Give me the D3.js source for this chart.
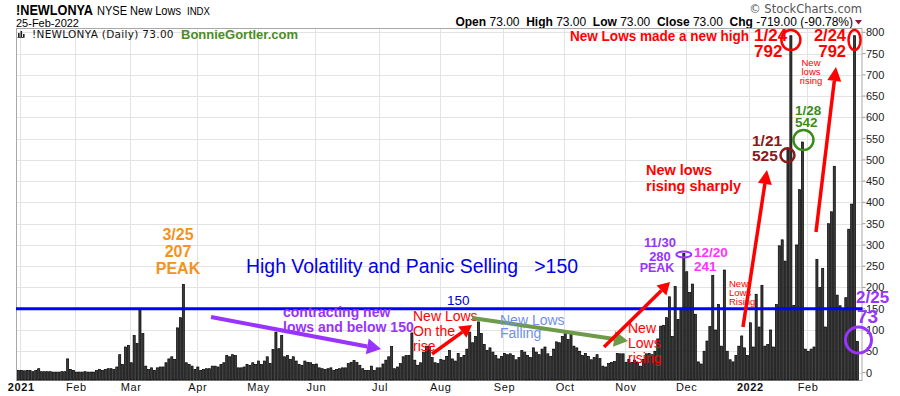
<!DOCTYPE html>
<html>
<head>
<meta charset="utf-8">
<script src="https://cdn.jsdelivr.net/npm/d3@7"></script>
<style>
  html, body { margin: 0; padding: 0; background: #fff; }
  svg { display: block; font-family: "Liberation Sans", Arial, sans-serif; }
</style>
</head>
<body>
<div id="chart"></div>
<script>
// ---- daily NYSE new lows, one array per month ----
const dec2020 = [5];
const jan2021 = [5, 4, 5, 5, 2, 5, 9, 2, 2, 2, 2, 1, 1, 1, 2, 2, 32, 7, 5];
const feb2021 = [1, 1, 1, 2, 1, 1, 1, 5, 7, 5, 7, 9, 9, 7, 13, 42, 19, 60, 64];
const mar2021 = [23, 87, 68, 149, 92, 15, 7, 11, 5, 11, 13, 13, 23, 32, 37, 31, 105, 129, 207, 23, 19, 15, 7];
const apr2021 = [13, 5, 7, 9, 9, 15, 15, 13, 19, 23, 40, 37, 42, 40, 11, 11, 13, 19, 17, 23, 19];
const may2021 = [27, 19, 27, 37, 21, 54, 95, 56, 87, 37, 40, 31, 37, 27, 19, 17, 27, 24, 23, 19];
const jun2021 = [20, 11, 9, 7, 9, 11, 5, 7, 9, 11, 11, 21, 24, 28, 24, 17, 9, 5, 5, 15, 5, 11];
const jul2021 = [11, 20, 29, 37, 61, 9, 13, 21, 37, 40, 40, 93, 29, 17, 23, 48, 62, 61, 35, 23, 21];
const aug2021 = [31, 29, 38, 52, 32, 27, 45, 35, 40, 55, 95, 70, 85, 119, 92, 66, 52, 58, 48, 40, 32, 38];
const sep2021 = [45, 42, 44, 40, 30, 35, 52, 48, 40, 35, 58, 48, 42, 55, 60, 44, 38, 55, 72, 70, 85];
const oct2021 = [97, 78, 95, 62, 58, 50, 40, 45, 38, 30, 35, 42, 33, 15, 13, 21, 24, 26, 45, 44, 44];
const nov2021 = [24, 31, 24, 29, 24, 15, 31, 44, 45, 42, 50, 79, 109, 111, 129, 178, 85, 202, 125, 150, 280];
const dec2021 = [237, 188, 208, 137, 25, 20, 50, 74, 108, 228, 100, 160, 62, 241, 50, 30, 25, 40, 62, 86, 58, 40];
const jan2022 = [117, 60, 184, 107, 205, 62, 66, 100, 60, 160, 298, 312, 262, 525, 792, 158, 300, 430, 542, 55];
const feb2022 = [50, 55, 60, 266, 200, 245, 107, 350, 378, 485, 182, 157, 150, 176, 337, 396, 792, 73];

const monthValues = [dec2020, jan2021, feb2021, mar2021, apr2021, may2021, jun2021,
                     jul2021, aug2021, sep2021, oct2021, nov2021, dec2021, jan2022, feb2022];
const monthLabels = ["", "2021", "Feb", "Mar", "Apr", "May", "Jun", "Jul", "Aug",
                     "Sep", "Oct", "Nov", "Dec", "2022", "Feb"];
const yTickValues = [0, 50, 100, 150, 200, 250, 300, 350, 400, 450, 500, 550, 600, 650, 700, 750, 800];
const threshold = 150;

// flatten -> one row per trading day
const data = [];
const monthStarts = [];
monthValues.forEach((arr, m) => {
  monthStarts.push({ i: data.length, label: monthLabels[m] });
  arr.forEach(v => data.push({ i: data.length, v }));
});
const n = data.length;

const W = 900, H = 396;
const plot = { left: 17, right: 17 + n * 2.893, top: 29, bottom: 380 };

const svg = d3.select("#chart").append("svg")
  .attr("width", W).attr("height", H);

const x = d3.scaleBand()
  .domain(d3.range(n))
  .range([plot.left, plot.right])
  .paddingInner(0.28)
  .paddingOuter(0.14);
const xc = i => x(i) + x.bandwidth() / 2;

const y = d3.scaleLinear()
  .domain([-17.6, 807.8])
  .range([plot.bottom, plot.top]);

const frameR = 862.5;

// ---- header ----
const head = svg.append("g");
head.append("text").attr("x", 16).attr("y", 15)
  .attr("font-size", 14.5).attr("font-weight", "bold").attr("fill", "#000")
  .attr("textLength", 77).attr("lengthAdjust", "spacingAndGlyphs")
  .text("!NEWLONYA");
head.append("text").attr("x", 97).attr("y", 15)
  .attr("font-size", 12).attr("fill", "#000")
  .attr("textLength", 84).attr("lengthAdjust", "spacingAndGlyphs")
  .text("NYSE New Lows");
head.append("text").attr("x", 187).attr("y", 15)
  .attr("font-size", 11.5).attr("fill", "#000")
  .attr("textLength", 23).attr("lengthAdjust", "spacingAndGlyphs")
  .text("INDX");
head.append("text").attr("x", 16).attr("y", 27)
  .attr("font-size", 11).attr("fill", "#000")
  .text("25-Feb-2022");
head.append("text").attr("x", 862).attr("y", 13)
  .attr("text-anchor", "end").attr("font-size", 11.5).attr("fill", "#555")
  .attr("font-family", "DejaVu Sans, sans-serif")
  .text("\u00A9 StockCharts.com");

const ohlc = head.append("text").attr("x", 853).attr("y", 26)
  .attr("text-anchor", "end").attr("font-size", 12).attr("fill", "#000");
[["Open", " 73.00  "], ["High", " 73.00  "], ["Low", " 73.00  "],
 ["Close", " 73.00  "], ["Chg", " -719.00 (-90.78%)"]].forEach(([k, val]) => {
  ohlc.append("tspan").attr("font-weight", "bold").text(k);
  ohlc.append("tspan").text(val.replace(/ /g, "\u00A0"));
});
head.append("path").attr("d", "M855,20 L862,20 L858.5,24.5 Z").attr("fill", "#8b1a3a");

// ---- grid + frame ----
const grid = svg.append("g");
grid.selectAll("line.h").data(yTickValues).join("line")
  .attr("x1", plot.left - 1).attr("x2", frameR)
  .attr("y1", d => Math.round(y(d)) + 0.5).attr("y2", d => Math.round(y(d)) + 0.5)
  .attr("stroke", "#e3e3e3");
grid.selectAll("line.v").data(monthStarts.filter(d => d.label)).join("line")
  .attr("x1", d => Math.round(x(d.i)) + 0.5).attr("x2", d => Math.round(x(d.i)) + 0.5)
  .attr("y1", plot.top).attr("y2", plot.bottom)
  .attr("stroke", "#e3e3e3");
svg.append("rect")
  .attr("x", plot.left - 0.5).attr("y", plot.top - 0.5)
  .attr("width", frameR - plot.left).attr("height", plot.bottom - plot.top + 1)
  .attr("fill", "none").attr("stroke", "#a8a8a8");

// ---- bars ----
svg.append("g").selectAll("rect").data(data).join("rect")
  .attr("x", d => x(d.i))
  .attr("y", d => y(d.v))
  .attr("width", x.bandwidth())
  .attr("height", d => plot.bottom - y(d.v))
  .attr("fill", "#3c3c3c")
  .attr("stroke", "#000")
  .attr("stroke-width", 0.7);

// ---- axes labels ----
const yAx = svg.append("g");
yAx.selectAll("text").data(yTickValues).join("text")
  .attr("x", 866).attr("y", d => y(d) + 4)
  .attr("font-size", 11).attr("fill", "#222")
  .text(d => d);
yAx.selectAll("line").data(yTickValues).join("line")
  .attr("x1", frameR).attr("x2", frameR + 3)
  .attr("y1", d => y(d)).attr("y2", d => y(d)).attr("stroke", "#999");

svg.append("g").selectAll("text").data(monthStarts.filter(d => d.label)).join("text")
  .attr("x", d => x(d.i) + 1).attr("y", 391)
  .attr("text-anchor", "middle")
  .attr("font-size", 11)
  .attr("letter-spacing", 0.6)
  .attr("font-weight", d => /^\d{4}$/.test(d.label) ? "bold" : "normal")
  .attr("fill", "#111")
  .text(d => d.label);

// ---- legend ----
const leg = svg.append("g");
[[18, 33, 4], [20.5, 31, 6], [23, 34, 3]].forEach(([bx, by, bh]) =>
  leg.append("rect").attr("x", bx).attr("y", by).attr("width", 1.6).attr("height", bh).attr("fill", "#222"));
leg.append("rect").attr("x", 17.5).attr("y", 37).attr("width", 7).attr("height", 0.8).attr("fill", "#222");
leg.append("text").attr("x", 32).attr("y", 38)
  .attr("font-family", "DejaVu Sans, sans-serif").attr("font-size", 10.5).attr("fill", "#111")
  .attr("letter-spacing", 0.3)
  .text("!NEWLONYA (Daily) 73.00");
leg.append("text").attr("x", 181).attr("y", 39)
  .attr("font-size", 13).attr("font-weight", "bold").attr("fill", "#4a8c26")
  .text("BonnieGortler.com");

// ---- threshold line ----
svg.append("line")
  .attr("x1", plot.left - 1).attr("x2", frameR)
  .attr("y1", y(threshold)).attr("y2", y(threshold))
  .attr("stroke", "#0000ff").attr("stroke-width", 3);

// ---- annotations ----
const ann = svg.append("g");

function lines(xp, yp, rows, size, color, weight, lh, anchor) {
  rows.forEach((t, k) => ann.append("text")
    .attr("x", xp).attr("y", yp + k * lh)
    .attr("font-size", size).attr("font-weight", weight || "normal")
    .attr("text-anchor", anchor || "start")
    .attr("fill", color).text(t));
}

function arrow(x1, y1, x2, y2, color, w, hl, hw) {
  const a = Math.atan2(y2 - y1, x2 - x1);
  const bx = x2 - hl * Math.cos(a), by = y2 - hl * Math.sin(a);
  ann.append("line").attr("x1", x1).attr("y1", y1).attr("x2", bx).attr("y2", by)
    .attr("stroke", color).attr("stroke-width", w);
  const px = -Math.sin(a) * hw, py = Math.cos(a) * hw;
  ann.append("path")
    .attr("d", `M${x2},${y2} L${bx + px},${by + py} L${bx - px},${by - py} Z`)
    .attr("fill", color);
}

// 3/25 peak
lines(178, 240, ["3/25", "207", "PEAK"], 16, "#f5921e", "bold", 17, "middle");

// headline
ann.append("text").attr("x", 246).attr("y", 273)
  .attr("font-size", 20).attr("fill", "#0000ee")
  .attr("textLength", 332).attr("lengthAdjust", "spacingAndGlyphs")
  .text("High Volatility and Panic Selling\u00A0\u00A0\u00A0>150");
ann.append("text").attr("x", 447).attr("y", 305)
  .attr("font-size", 13.5).attr("fill", "#0000cc").text("150");

// contracting
arrow(211, 317, 381, 349, "#9933ff", 4, 14, 8);
lines(283, 317, ["contracting new", "lows and below 150"], 14, "#9933ff", "bold", 15);

// new lows on the rise
lines(413, 321, ["New Lows", "On the", "rise"], 14, "#ff0000", "normal", 15);
arrow(432, 354, 472, 325, "#ff0000", 3.5, 12, 7);

// falling
arrow(472, 318, 628, 341, "#6e9b4a", 4, 14, 8);
lines(500, 325, ["New Lows", "Falling"], 14, "#6f8fee", "normal", 13);

// new lows rising (Nov)
lines(628, 333, ["New", "Lows", "rising"], 14, "#ff0000", "normal", 15);
arrow(604, 347, 670, 282, "#ff0000", 3.5, 12, 7);

// 11/30 & 12/20
lines(660, 247, ["11/30", "280"], 13, "#9933ff", "bold", 14, "middle");
lines(657, 272, ["PEAK"], 12.5, "#9933ff", "bold", 0, "middle");
ann.append("ellipse").attr("cx", xc(230)).attr("cy", y(280) + 1)
  .attr("rx", 7.5).attr("ry", 3).attr("fill", "none")
  .attr("stroke", "#9933ff").attr("stroke-width", 2);
lines(694, 257, ["12/20", "241"], 13.5, "#ff33ff", "bold", 14);

// sharply
lines(646, 175, ["New lows", "rising sharply"], 14.5, "#ff0000", "bold", 16);
arrow(743, 327, 767, 170, "#ff0000", 3.5, 14, 7);
lines(729, 287, ["New", "Lows", "Rising"], 9.5, "#ff0000", "normal", 9);

// top labels
ann.append("text").attr("x", 570).attr("y", 41)
  .attr("font-size", 15.5).attr("font-weight", "bold")
  .attr("textLength", 179).attr("lengthAdjust", "spacingAndGlyphs")
  .attr("fill", "#ff0000").text("New Lows made a new high");
lines(754, 41, ["1/24", "792"], 17, "#ff0000", "bold", 15.5);
lines(846, 41, ["2/24", "792"], 16.5, "#ff0000", "bold", 15.5, "end");
ann.append("ellipse").attr("cx", xc(267)).attr("cy", 40)
  .attr("rx", 9.5).attr("ry", 10).attr("fill", "none")
  .attr("stroke", "#ff0000").attr("stroke-width", 2.5);
ann.append("ellipse").attr("cx", xc(289)).attr("cy", 40)
  .attr("rx", 6).attr("ry", 10).attr("fill", "none")
  .attr("stroke", "#ff0000").attr("stroke-width", 2.5);

// 1/21
lines(752, 146, ["1/21", "525"], 15.5, "#8b1a1a", "bold", 15);
ann.append("circle").attr("cx", xc(266) - 0.5).attr("cy", y(525) + 6)
  .attr("r", 7).attr("fill", "none")
  .attr("stroke", "#8b1a1a").attr("stroke-width", 2.5);

// 1/28
lines(795, 115, ["1/28", "542"], 13.5, "#3c8c1c", "bold", 12);
ann.append("circle").attr("cx", xc(271) + 1).attr("cy", 140)
  .attr("r", 10).attr("fill", "none")
  .attr("stroke", "#3c8c1c").attr("stroke-width", 2.5);

// Feb new lows rising
lines(811, 66, ["New", "lows", "rising"], 9.5, "#ff0000", "normal", 9, "middle");
arrow(816, 232, 836, 67, "#ff0000", 3.5, 14, 7);

// 2/25
lines(856, 303, ["2/25"], 17, "#9933ff", "bold", 0);
lines(857, 323, ["73"], 19, "#9933ff", "bold", 0);
ann.append("circle").attr("cx", 858.5).attr("cy", 340)
  .attr("r", 13).attr("fill", "none")
  .attr("stroke", "#9933ff").attr("stroke-width", 3);
</script>
</body>
</html>
